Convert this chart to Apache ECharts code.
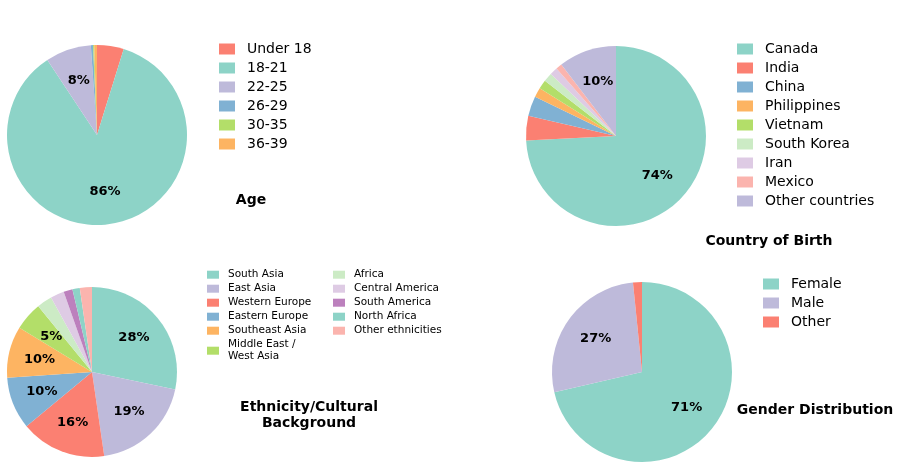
<!DOCTYPE html>
<html><head><meta charset="utf-8">
<script src="https://cdn.jsdelivr.net/npm/echarts@6/dist/echarts.min.js"></script>
<style>html,body{margin:0;padding:0;background:#fff}#c{width:901px;height:469px}</style>
</head><body><div id="c"></div>
<script>
// ---- data ----
const ageLabels = ['Under 18', '18-21', '22-25', '26-29', '30-35', '36-39'];
const ageValues = [4.8, 85.9, 8.2, 0.4, 0.2, 0.5];
const ageColors = ['#fb8072', '#8dd3c7', '#bebada', '#80b1d3', '#b3de69', '#fdb462'];

const birthLabels = ['Canada', 'India', 'China', 'Philippines', 'Vietnam', 'South Korea', 'Iran', 'Mexico', 'Other countries'];
const birthValues = [74.2, 4.4, 3.6, 1.7, 1.6, 1.6, 1.4, 1.1, 10.4];
const birthColors = ['#8dd3c7', '#fb8072', '#80b1d3', '#fdb462', '#b3de69', '#ccebc5', '#decbe4', '#fbb4ae', '#bebada'];

const ethLabels = ['South Asia', 'East Asia', 'Western Europe', 'Eastern Europe', 'Southeast Asia', 'Middle East /\nWest Asia', 'Africa', 'Central America', 'South America', 'North Africa', 'Other ethnicities'];
const ethValues = [28.3, 19.4, 16.3, 9.9, 9.8, 5.4, 2.9, 2.6, 1.7, 1.4, 2.3];
const ethColors = ['#8dd3c7', '#bebada', '#fb8072', '#80b1d3', '#fdb462', '#b3de69', '#ccebc5', '#decbe4', '#bc80bd', '#8dd3c7', '#fbb4ae'];

const genderLabels = ['Female', 'Male', 'Other'];
const genderValues = [71.4, 27.0, 1.6];
const genderColors = ['#8dd3c7', '#bebada', '#fb8072'];

const titles = ['Age', 'Country of Birth', 'Ethnicity/Cultural\nBackground', 'Gender Distribution'];

// ---- chart ----
const FONT = '"DejaVu Sans", "Liberation Sans", sans-serif';
const chart = echarts.init(document.getElementById('c'), null, {renderer: 'canvas'});

function mk(names, values, colors) {
  return names.map((n, i) => ({name: n, value: values[i], itemStyle: {color: colors[i]}}));
}
function pieSeries(names, values, colors, center, r) {
  return {
    type: 'pie', center: center, radius: [0, r], startAngle: 90, clockwise: true,
    silent: true, label: {show: false}, labelLine: {show: false},
    emphasis: {disabled: true}, animation: false,
    data: mk(names, values, colors)
  };
}
function labelSeries(names, values, center, r) {
  return {
    type: 'pie', center: center, radius: [r * 0.2, r], startAngle: 90, clockwise: true,
    silent: true, labelLine: {show: false}, emphasis: {disabled: true}, animation: false,
    itemStyle: {color: 'rgba(0,0,0,0)'},
    label: {
      show: true, position: 'inside', color: '#000', fontSize: 13, fontWeight: 'bold', fontFamily: FONT,
      formatter: p => (p.percent >= 5 ? Math.round(p.value) + '%' : '')
    },
    data: names.map((n, i) => ({name: n + '\u200b', value: values[i]}))
  };
}
function legend(names, left, top, opts) {
  return Object.assign({
    orient: 'vertical', left: left, top: top, data: names, icon: 'rect',
    itemWidth: 16, itemHeight: 11, itemGap: 0, padding: 0, selectedMode: false,
    textStyle: {fontSize: 14, lineHeight: 19, color: '#000', fontFamily: FONT, padding: [0, 0, 0, 7]}
  }, opts || {});
}
const ethLegendText = {fontSize: 10.5, lineHeight: 12, color: '#000', fontFamily: FONT, padding: [0, 0, 0, 4]};

function titleText(text, x, y) {
  return {
    type: 'text', x: x, y: y, silent: true,
    style: {text: text, align: 'center', verticalAlign: 'middle', font: 'bold 14px ' + FONT, fill: '#000', lineHeight: 16}
  };
}

chart.setOption({
  backgroundColor: '#fff',
  animation: false,
  legend: [
    legend(ageLabels, 219, 39.5),
    legend(birthLabels, 737, 39.5),
    legend(genderLabels, 763, 274.5),
    legend(ethLabels.slice(0, 6), 207, 268.7, {itemWidth: 12, itemHeight: 8, itemGap: 2, textStyle: ethLegendText}),
    legend(ethLabels.slice(6), 333, 268.7, {itemWidth: 12, itemHeight: 8, itemGap: 2, textStyle: ethLegendText})
  ],
  series: [
    pieSeries(ageLabels, ageValues, ageColors, [97, 135], 90),
    pieSeries(birthLabels, birthValues, birthColors, [616, 136], 90),
    pieSeries(ethLabels, ethValues, ethColors, [92, 372], 85),
    pieSeries(genderLabels, genderValues, genderColors, [642, 372], 90),
    labelSeries(ageLabels, ageValues, [97, 135], 90),
    labelSeries(birthLabels, birthValues, [616, 136], 90),
    labelSeries(ethLabels, ethValues, [92, 372], 85),
    labelSeries(genderLabels, genderValues, [642, 372], 90)
  ],
  graphic: [
    titleText(titles[0], 251, 200),
    titleText(titles[1], 769, 241),
    titleText(titles[2], 309, 415),
    titleText(titles[3], 815, 410)
  ]
});
</script></body></html>
